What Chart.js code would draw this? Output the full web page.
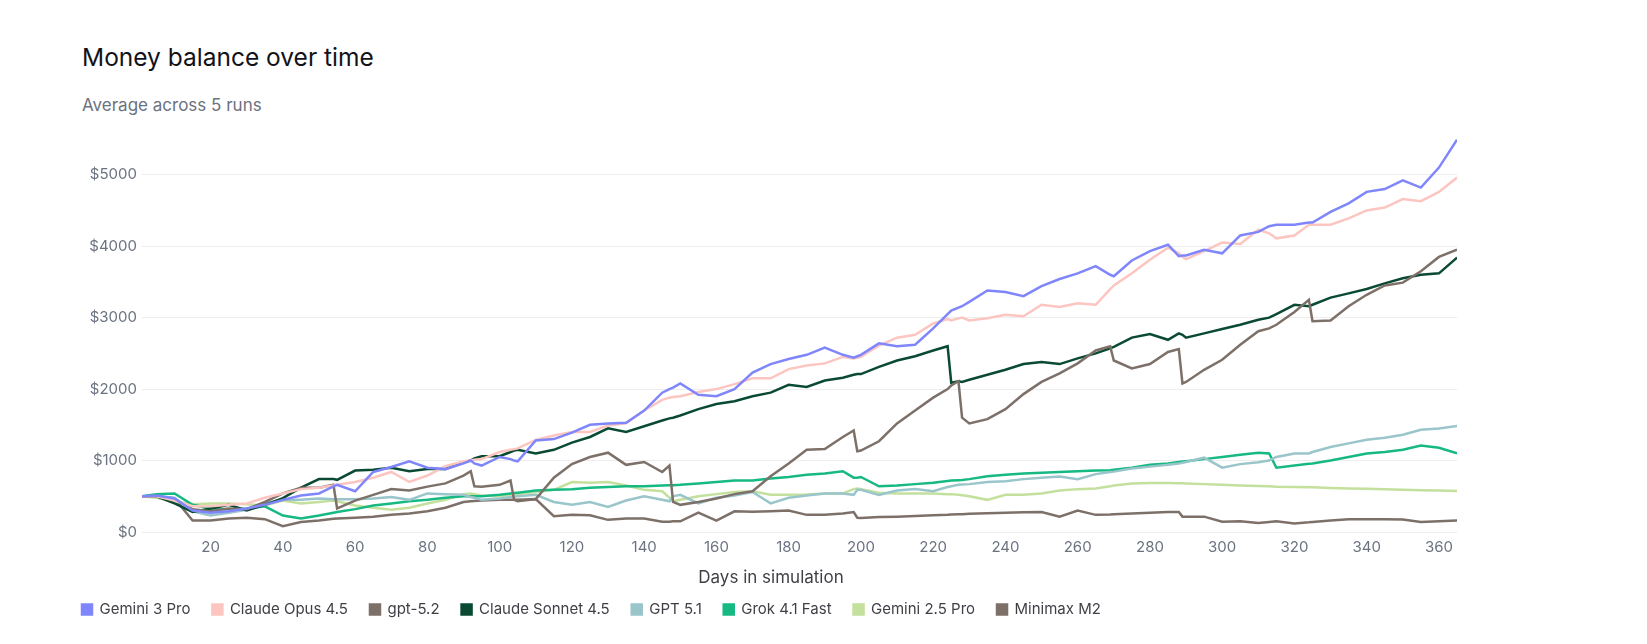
<!DOCTYPE html>
<html>
<head>
<meta charset="utf-8">
<title>Money balance over time</title>
<script src="https://cdn.jsdelivr.net/npm/chart.js@4.4.1/dist/chart.umd.min.js"></script>
<style>
  html, body { margin: 0; padding: 0; background: #fff; }
  body { width: 1647px; height: 644px; position: relative; overflow: hidden; font-family: Inter, "Noto Sans", sans-serif; }
  .title { position: absolute; left: 82px; top: 45px; font-size: 24.5px; line-height: 24px; color: #111318; }
  .subtitle { position: absolute; left: 82px; top: 97px; font-size: 17px; line-height: 17px; color: #6b7280; }
  .axis-title { position: absolute; left: 671px; width: 200px; top: 567px; text-align: center; font-size: 17px; line-height: 20px; color: #3f3f46; }
  .chart-box { position: absolute; left: 60px; top: 125px; width: 1407px; height: 502px; }
</style>
</head>
<body>
<div class="title">Money balance over time</div>
<div class="subtitle">Average across 5 runs</div>
<div class="chart-box"><canvas id="balanceChart"></canvas></div>
<div class="axis-title">Days in simulation</div>

<script>
// days in simulation (shared by every series)
const days = [
  1, 5, 10, 15, 20, 25, 30, 35, 40, 45,
  50, 54, 55, 60, 65, 70, 75, 80, 85, 90,
  92, 93, 95, 100, 103, 104, 105, 110, 115, 120,
  125, 130, 135, 140, 145, 147, 148, 150, 155, 160,
  165, 170, 175, 180, 185, 190, 195, 198, 199, 200,
  205, 210, 215, 220, 224, 225, 227, 228, 230, 235,
  240, 245, 250, 255, 260, 265, 269, 270, 275, 280,
  285, 288, 289, 290, 295, 300, 305, 310, 313, 315,
  320, 324, 325, 330, 335, 340, 345, 350, 355, 360,
  365
];

// money balance ($), one value per day above
const gemini3Pro = [
  500, 510, 470, 300, 270, 290, 330, 380, 450, 510,
  540, 640, 660, 570, 840, 910, 990, 900, 880, 960,
  1000, 960, 930, 1050, 1020, 1000, 990, 1280, 1300, 1390,
  1500, 1520, 1530, 1700, 1950, 2000, 2020, 2080, 1920, 1900,
  2000, 2230, 2350, 2420, 2480, 2580, 2480, 2440, 2460, 2480,
  2640, 2600, 2620, 2850, 3050, 3100, 3140, 3160, 3220, 3380,
  3360, 3300, 3440, 3540, 3620, 3720, 3600, 3580, 3800, 3930,
  4020, 3860, 3870, 3870, 3950, 3900, 4150, 4200, 4280, 4300,
  4300, 4330, 4330, 4480, 4600, 4760, 4800, 4920, 4820, 5100,
  5490
];
const claudeOpus45 = [
  500, 500, 440, 360, 360, 380, 400, 480, 540, 600,
  620, 650, 660, 700, 760, 840, 700, 790, 920, 990,
  1000, 1010, 1020, 1120, 1150, 1160, 1170, 1290, 1350, 1400,
  1400, 1490, 1520, 1700, 1850, 1880, 1890, 1900, 1960, 2000,
  2070, 2150, 2150, 2280, 2330, 2360, 2450, 2430, 2440, 2450,
  2610, 2720, 2760, 2920, 2980, 2960, 2990, 3000, 2960, 2990,
  3040, 3020, 3180, 3150, 3200, 3180, 3400, 3450, 3620, 3810,
  3980, 3900, 3850, 3820, 3930, 4050, 4030, 4230, 4180, 4110,
  4150, 4300, 4300, 4300, 4390, 4500, 4540, 4660, 4630, 4760,
  4960
];
const gpt52 = [
  500, 500, 460, 320, 290, 330, 320, 420, 540, 620,
  620, 660, 330, 440, 520, 600, 580, 635, 680, 790,
  850, 640, 635, 660, 720, 450, 430, 460, 760, 950,
  1050, 1110, 940, 980, 840, 930, 420, 380, 420, 470,
  530, 570, 780, 960, 1150, 1160, 1330, 1420, 1130, 1140,
  1270, 1520, 1700, 1880, 2000, 2050, 2110, 1600, 1520, 1580,
  1720, 1930, 2100, 2220, 2360, 2540, 2600, 2400, 2290, 2350,
  2520, 2560, 2080, 2100, 2270, 2410, 2620, 2810, 2850, 2900,
  3080, 3250, 2950, 2960, 3160, 3320, 3450, 3490, 3650, 3850,
  3950
];
const claudeSonnet45 = [
  500, 500, 400, 280, 330, 380, 300, 380, 475, 620,
  740, 740, 730, 860, 870, 900, 850, 880, 880, 980,
  1000, 1030, 1060, 1060, 1120, 1140, 1150, 1100, 1150, 1250,
  1330, 1450, 1400, 1480, 1560, 1590, 1600, 1630, 1720, 1790,
  1830, 1900, 1950, 2060, 2030, 2120, 2160, 2200, 2210, 2210,
  2310, 2400, 2460, 2540, 2600, 2090, 2110, 2100, 2130, 2200,
  2270, 2350, 2380, 2350, 2430, 2500, 2570, 2590, 2720, 2770,
  2690, 2780, 2760, 2720, 2780, 2840, 2900, 2970, 3000, 3050,
  3180, 3160, 3180, 3280, 3340, 3400, 3480, 3550, 3600, 3620,
  3840
];
const gpt51 = [
  500, 500, 480, 290, 230, 270, 310, 400, 450, 450,
  470, 460, 460, 460, 470, 490, 450, 540, 530, 520,
  490, 480, 450, 470, 490, 495, 500, 520, 420, 380,
  420, 350, 440, 500, 450, 430, 500, 520, 400, 480,
  510, 560, 400, 480, 510, 540, 540, 520, 590, 590,
  520, 580, 600, 570, 630, 640, 660, 665, 670, 700,
  710, 740, 760, 775, 740, 810, 840, 845, 890, 915,
  940, 960, 970, 980, 1040, 900, 950, 975, 1000, 1050,
  1100, 1100, 1120, 1190, 1240, 1290, 1320, 1360, 1430, 1450,
  1485
];
const grok41Fast = [
  500, 530, 540, 380, 330, 320, 330, 360, 230, 190,
  230, 270, 280, 320, 370, 400, 430, 450, 480, 500,
  500, 500, 500, 520, 540, 545, 550, 580, 590, 600,
  620, 630, 640, 640, 650, 655, 655, 660, 680, 700,
  720, 720, 750, 770, 800, 820, 850, 760, 760, 770,
  640, 650, 670, 690, 715, 720, 725, 728, 740, 780,
  800, 820, 830, 840, 850, 860, 865, 870, 900, 940,
  960, 980, 985, 990, 1020, 1050, 1080, 1110, 1100, 900,
  930, 955, 960, 1000, 1050, 1100, 1120, 1150, 1210, 1180,
  1100
];
const gemini25Pro = [
  500, 480, 430, 390, 400, 400, 390, 370, 440, 400,
  420, 440, 430, 370, 340, 310, 340, 400, 450, 530,
  540, 530, 510, 500, 520, 525, 530, 560, 590, 700,
  690, 700, 650, 590, 570, 480, 430, 450, 500, 530,
  560, 570, 520, 520, 525, 540, 540, 600, 610, 600,
  550, 540, 540, 540, 530, 530, 520, 515, 500, 450,
  520, 520, 540, 580, 600, 610, 640, 650, 680, 685,
  685, 682, 682, 680, 670, 660, 650, 645, 640, 635,
  630, 626, 625, 615, 610, 605, 598, 590, 585, 580,
  574
];
const minimaxM2 = [
  500, 500, 470, 160, 160, 190, 200, 180, 80, 140,
  160, 185, 190, 200, 215, 240, 260, 290, 340, 420,
  430, 435, 440, 450, 450, 450, 450, 460, 220, 240,
  235, 170, 190, 190, 145, 145, 150, 150, 270, 160,
  290, 285, 290, 300, 240, 240, 260, 280, 200, 195,
  210, 215, 225, 235, 240, 245, 250, 250, 255, 262,
  270, 275, 280, 215, 300, 240, 245, 250, 260, 270,
  280, 280, 215, 215, 215, 145, 150, 125, 140, 150,
  120, 135, 140, 160, 180, 180, 180, 175, 140, 150,
  160
];

const seriesNames = ['Gemini 3 Pro', 'Claude Opus 4.5', 'gpt-5.2', 'Claude Sonnet 4.5', 'GPT 5.1', 'Grok 4.1 Fast', 'Gemini 2.5 Pro', 'Minimax M2'];
const seriesValues = [gemini3Pro, claudeOpus45, gpt52, claudeSonnet45, gpt51, grok41Fast, gemini25Pro, minimaxM2];
const seriesColors = ['#7f86fb', '#fcc5c0', '#7d7069', '#0a4a33', '#99c5cb', '#17b982', '#c4e09d', '#7d7069'];

const xTicks = [20, 40, 60, 80, 100, 120, 140, 160, 180, 200, 220, 240, 260, 280, 300, 320, 340, 360];
const yTicks = [0, 1000, 2000, 3000, 4000, 5000];

const datasets = seriesNames.map(function(name, i) {
    return {
        label: name,
        data: days.map(function(d, j) { return { x: d, y: seriesValues[i][j] }; }),
        borderColor: seriesColors[i],
        backgroundColor: seriesColors[i],
        borderWidth: 2.5,
        pointRadius: 0,
        pointHoverRadius: 0,
        tension: 0
    };
});

const tickColor = '#6b7280';

new Chart(document.getElementById('balanceChart'), {
    type: 'line',
    data: { datasets: datasets },
    options: {
        responsive: true,
        maintainAspectRatio: false,
        animation: false,
        devicePixelRatio: 1,
        layout: { padding: { top: 0, right: 10, left: 0, bottom: 0 } },
        scales: {
            x: {
                type: 'linear',
                min: 1,
                max: 365,
                afterBuildTicks: function(axis) { axis.ticks = xTicks.map(function(v) { return { value: v }; }); },
                afterFit: function(axis) { axis.height = 48; },
                ticks: { color: tickColor, font: { family: 'Inter', size: 15 }, padding: 6, maxRotation: 0, autoSkip: false },
                grid: { display: false, drawTicks: false },
                border: { display: false }
            },
            y: {
                min: 0,
                max: 5500,
                afterBuildTicks: function(axis) { axis.ticks = yTicks.map(function(v) { return { value: v }; }); },
                afterFit: function(axis) { axis.width = 82; },
                ticks: {
                    color: tickColor,
                    font: { family: 'Inter', size: 15 },
                    padding: 5,
                    callback: function(v) { return '$' + v; }
                },
                grid: { color: '#ededed', lineWidth: 1, drawTicks: false },
                border: { display: false }
            }
        },
        plugins: {
            legend: {
                position: 'bottom',
                align: 'start',
                labels: {
                    boxWidth: 10,
                    boxHeight: 10,
                    padding: 22,
                    color: '#3f3f46',
                    font: { family: 'Inter', size: 15 }
                }
            },
            tooltip: { enabled: false }
        }
    }
});
</script>
</body>
</html>
